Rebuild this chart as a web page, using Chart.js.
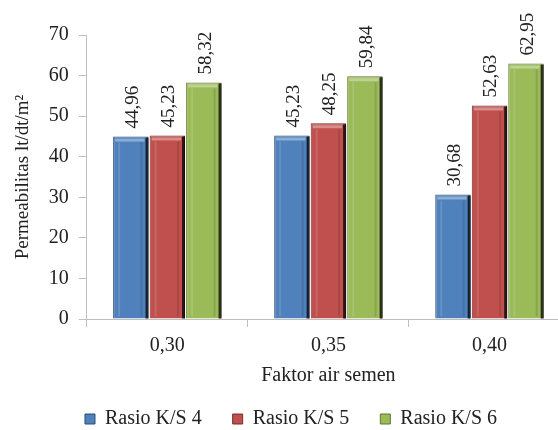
<!DOCTYPE html>
<html>
<head>
    <title>Permeabilitas</title>
    <script src="https://cdn.jsdelivr.net/npm/chart.js"></script>
    <style>
        * {
            box-sizing: border-box;
            margin: 0;
        }

        body {
            background: #ffffff;
            overflow: hidden;
            width: 558px;
            height: 430px;
        }

        .chart-container {
            width: 582px;
            height: 430px;
            position: relative;
        }
    </style>
</head>
<body>
    <div class="chart-container">
        <canvas id="permChart"></canvas>
    </div>

    <script>
        // data
        const categories = ['0,30', '0,35', '0,40'];
        const rasio4 = [44.96, 45.23, 30.68];
        const rasio5 = [45.23, 48.25, 52.63];
        const rasio6 = [58.32, 59.84, 62.95];
        const seriesNames = ['Rasio K/S 4', 'Rasio K/S 5', 'Rasio K/S 6'];
        const yTicks = [0, 10, 20, 30, 40, 50, 60, 70];

        const fills = ['#4f81bd', '#c0504d', '#9bbb59'];
        const edges = ['#2c4d75', '#772c2a', '#5f7530'];
        const serif = "'Liberation Serif', 'Times New Roman', serif";

        Chart.defaults.font.family = serif;
        Chart.defaults.font.size = 20;
        Chart.defaults.color = '#222222';

        // bevel look: dark right side, light top strip
        const bevelPlugin = {
            id: 'bevel',
            afterDatasetsDraw(chart) {
                const ctx = chart.ctx;
                chart.data.datasets.forEach((ds, i) => {
                    const meta = chart.getDatasetMeta(i);
                    meta.data.forEach(bar => {
                        const left = bar.x - bar.width / 2;
                        const right = bar.x + bar.width / 2;
                        const top = bar.y;
                        const h = bar.base - bar.y;
                        ctx.save();
                        ctx.fillStyle = 'rgba(0,0,0,0.75)';
                        ctx.fillRect(right - 3, top + 1, 3, h - 1);
                        ctx.fillStyle = 'rgba(255,255,255,0.35)';
                        ctx.fillRect(left + 2, top + 2, bar.width - 6, 3);
                        ctx.fillStyle = 'rgba(255,255,255,0.12)';
                        ctx.fillRect(left + 5, top + 6, 2, h - 8);
                        ctx.fillStyle = 'rgba(0,0,0,0.12)';
                        ctx.fillRect(right - 8, top + 6, 2, h - 8);
                        ctx.restore();
                    });
                });
            }
        };

        // rotated value labels above each bar
        const valueLabels = {
            id: 'valueLabels',
            afterDatasetsDraw(chart) {
                const ctx = chart.ctx;
                ctx.save();
                ctx.font = '19px ' + serif;
                ctx.fillStyle = '#222222';
                ctx.textAlign = 'left';
                ctx.textBaseline = 'middle';
                chart.data.datasets.forEach((ds, i) => {
                    const meta = chart.getDatasetMeta(i);
                    meta.data.forEach((bar, j) => {
                        ctx.save();
                        ctx.translate(bar.x + 2, bar.y - 8);
                        ctx.rotate(-Math.PI / 2);
                        ctx.fillText(ds.data[j].toFixed(2).replace('.', ','), 0, 0);
                        ctx.restore();
                    });
                });
                ctx.restore();
            }
        };

        const ctx = document.getElementById('permChart').getContext('2d');
        new Chart(ctx, {
            type: 'bar',
            data: {
                labels: categories,
                datasets: [rasio4, rasio5, rasio6].map((vals, i) => ({
                    label: seriesNames[i],
                    data: vals,
                    backgroundColor: fills[i],
                    borderColor: edges[i],
                    borderWidth: 1,
                    barPercentage: 0.97,
                    categoryPercentage: 0.68
                }))
            },
            options: {
                responsive: true,
                maintainAspectRatio: false,
                animation: false,
                font: { family: serif, size: 20 },
                layout: {
                    padding: { left: 12, right: 12, top: 35, bottom: -9 }
                },
                plugins: {
                    tooltip: { enabled: false },
                    legend: {
                        position: 'bottom',
                        labels: {
                            boxWidth: 10,
                            boxHeight: 10,
                            padding: 31,
                            color: '#222222',
                            font: { family: serif, size: 20, weight: 'normal' }
                        }
                    }
                },
                scales: {
                    x: {
                        border: { color: '#bfbfbf', width: 1 },
                        grid: {
                            drawOnChartArea: false,
                            tickLength: 8,
                            color: '#bfbfbf'
                        },
                        ticks: {
                            color: '#222222',
                            padding: 7,
                            font: { family: serif, size: 20 }
                        },
                        title: {
                            display: true,
                            text: 'Faktor air semen',
                            color: '#222222',
                            padding: { top: -1, bottom: -10 },
                            font: { family: serif, size: 20 }
                        }
                    },
                    y: {
                        min: 0,
                        max: 70,
                        afterBuildTicks(axis) {
                            axis.ticks = yTicks.map(v => ({ value: v }));
                        },
                        border: { color: '#bfbfbf', width: 1 },
                        grid: {
                            drawOnChartArea: false,
                            tickLength: 8,
                            color: '#bfbfbf'
                        },
                        ticks: {
                            color: '#222222',
                            padding: 10,
                            font: { family: serif, size: 20 }
                        },
                        title: {
                            display: true,
                            text: 'Permeabilitas lt/dt/m²',
                            color: '#222222',
                            padding: { top: 0, bottom: 4 },
                            font: { family: serif, size: 19 }
                        }
                    }
                }
            },
            plugins: [bevelPlugin, valueLabels]
        });
    </script>
</body>
</html>
